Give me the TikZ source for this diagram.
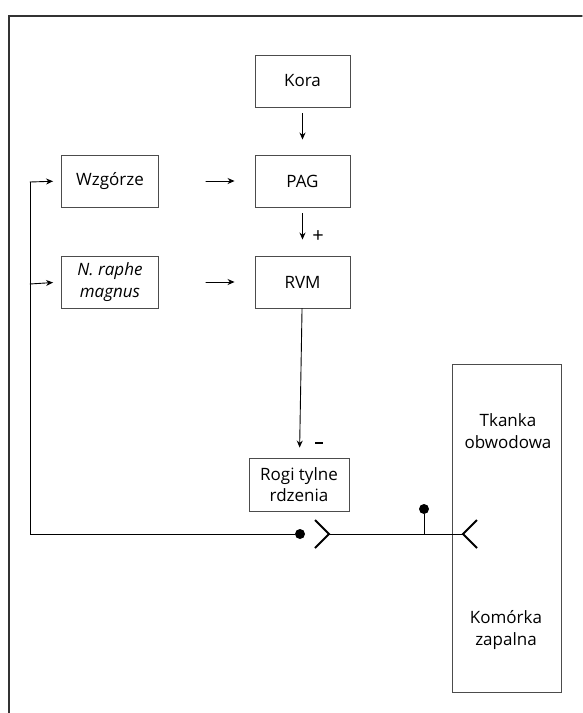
\documentclass[tikz,border=0pt]{standalone}
\usepackage{fontspec}
\setmainfont{Open Sans}
\usepackage{tikz}
\usetikzlibrary{arrows.meta}

\begin{document}
\begin{tikzpicture}[>={Stealth[length=7pt,width=6pt]},x=1pt,y=-1pt,line cap=round,
				every node/.style={font=\fontsize{17}{21.5}\selectfont},
				box/.style={draw=black!70,line width=0.9pt,minimum width=95pt,minimum height=52pt,align=center,inner sep=2pt},
				txt/.style={align=center,inner sep=0pt},
				pin/.style={circle,inner sep=0pt,minimum size=10pt,fill},
				chev/.style={line width=1.8pt,line cap=butt,line join=miter},
				conn/.style={->,line width=0.9pt}]
				\useasboundingbox (0,0) rectangle (582,713);
				% frame (open to the right and below)
				\draw[line width=1.4pt,black!80] (9,713) -- (9,16) -- (582,16);
				
				\node[box] (kora) at (302.5,81) {Kora};
				\node[box] (pag) at (302.5,181) {PAG};
				\node[box] (rvm) at (302.5,282) {RVM};
				\node[box,minimum width=97pt] (wzg) at (110,181) {Wzgórze};
				\node[box,minimum width=97pt] (nrm) at (110,282) {\itshape N. raphe\\\itshape magnus};
				\node[box,minimum width=100pt,minimum height=53pt] (rogi) at (299,484.5) {Rogi tylne\\rdzenia};
				\node[draw=black!70,line width=0.9pt,minimum width=109pt,minimum height=328pt] (tkanka) at (506.5,528) {};
				\node[txt] (tk) at (508,431) {Tkanka\\obwodowa};
				\node[txt] (kom) at (506,630) {Komórka\\zapalna};
				
				\draw[conn,shorten <=6pt,shorten >=15pt] (kora) -- (pag);
				\draw[conn,shorten <=6pt,shorten >=16pt] (pag) -- (rvm);
				\draw[conn,shorten >=10pt] (rvm) -- (rogi);
				\draw[conn,shorten <=47pt,shorten >=20pt] (wzg) -- (pag);
				\draw[conn,shorten <=47pt,shorten >=20pt] (nrm) -- (rvm);
				\node[txt,font=\fontsize{20}{22}\selectfont] (plus) at (318,237) {+};
				\node[txt] (minus) at (319,443) {\rule[-1pt]{8pt}{2.2pt}};
				
				% feedback loop
				\coordinate (fb) at (30,534);
				\coordinate (fbw) at (30,182);
				\coordinate (fbn) at (30,284);
				\node[pin] (dotL) at (300,534) {};
				\coordinate (synL) at (329,534);
				\coordinate (synR) at (463,534);
				\node[pin] (dotT) at (424,509) {};
				\coordinate (stalk) at (424,534);
				\draw[line width=0.9pt] (fbw) -- (fb) -- (dotL);
				\draw[conn,shorten >=8pt] (fbw) -- (wzg.west);
				\draw[conn,shorten >=8pt] (fbn) -- (nrm.west);
				\draw[line width=0.9pt] (synL) -- (synR);
				\draw[line width=0.9pt] (stalk) -- (dotT);
				\draw[chev] (315,520) -- (synL) -- (315,548);
				\draw[chev] (477,520) -- (synR) -- (477,548);
			\end{tikzpicture}
\end{document}
